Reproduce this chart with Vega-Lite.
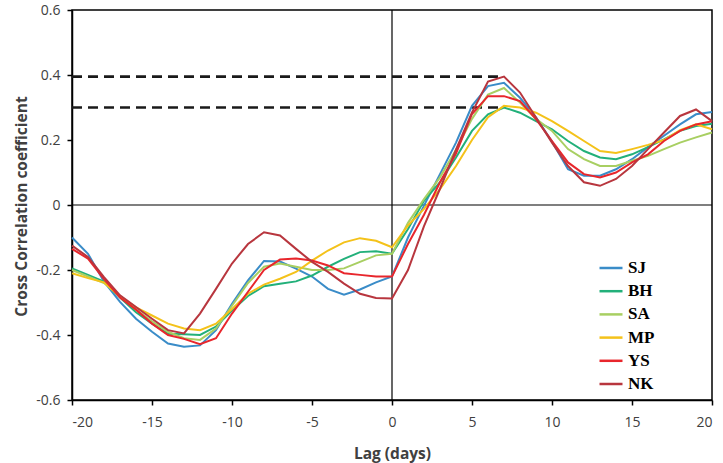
{
  "$schema": "https://vega.github.io/schema/vega-lite/v6.json",
  "width": 640,
  "height": 390,
  "autosize": "none",
  "padding": {"left": 72, "top": 10, "right": 11, "bottom": 63},
  "background": "white",
  "config": {
    "view": {"stroke": "black", "strokeWidth": 1.5},
    "axis": {
      "grid": false,
      "domainColor": "black",
      "domainWidth": 1.5,
      "tickColor": "black",
      "tickWidth": 1.5,
      "tickSize": 5,
      "labelFont": "Open Sans",
      "labelFontSize": 14,
      "labelColor": "#404040",
      "titleFont": "Open Sans",
      "titleFontSize": 15.5,
      "titleFontWeight": "bold",
      "titleColor": "#404040"
    }
  },
  "datasets": {
    "ccf": [
      {"lag": -20, "SJ": -0.100, "BH": -0.195, "SA": -0.200, "MP": -0.210, "YS": -0.135, "NK": -0.125},
      {"lag": -19, "SJ": -0.150, "BH": -0.215, "SA": -0.220, "MP": -0.225, "YS": -0.165, "NK": -0.160},
      {"lag": -18, "SJ": -0.236, "BH": -0.236, "SA": -0.240, "MP": -0.238, "YS": -0.228, "NK": -0.222},
      {"lag": -17, "SJ": -0.298, "BH": -0.285, "SA": -0.280, "MP": -0.282, "YS": -0.285, "NK": -0.278},
      {"lag": -16, "SJ": -0.350, "BH": -0.330, "SA": -0.322, "MP": -0.315, "YS": -0.322, "NK": -0.314},
      {"lag": -15, "SJ": -0.390, "BH": -0.365, "SA": -0.358, "MP": -0.340, "YS": -0.365, "NK": -0.350},
      {"lag": -14, "SJ": -0.426, "BH": -0.396, "SA": -0.390, "MP": -0.365, "YS": -0.400, "NK": -0.385},
      {"lag": -13, "SJ": -0.436, "BH": -0.398, "SA": -0.410, "MP": -0.380, "YS": -0.412, "NK": -0.395},
      {"lag": -12, "SJ": -0.432, "BH": -0.400, "SA": -0.415, "MP": -0.385, "YS": -0.428, "NK": -0.334},
      {"lag": -11, "SJ": -0.385, "BH": -0.374, "SA": -0.380, "MP": -0.365, "YS": -0.410, "NK": -0.258},
      {"lag": -10, "SJ": -0.304, "BH": -0.325, "SA": -0.310, "MP": -0.320, "YS": -0.334, "NK": -0.180},
      {"lag": -9, "SJ": -0.232, "BH": -0.280, "SA": -0.240, "MP": -0.273, "YS": -0.267, "NK": -0.120},
      {"lag": -8, "SJ": -0.172, "BH": -0.250, "SA": -0.190, "MP": -0.245, "YS": -0.200, "NK": -0.084},
      {"lag": -7, "SJ": -0.174, "BH": -0.242, "SA": -0.180, "MP": -0.227, "YS": -0.168, "NK": -0.094},
      {"lag": -6, "SJ": -0.196, "BH": -0.235, "SA": -0.190, "MP": -0.206, "YS": -0.165, "NK": -0.135},
      {"lag": -5, "SJ": -0.220, "BH": -0.217, "SA": -0.200, "MP": -0.171, "YS": -0.171, "NK": -0.175},
      {"lag": -4, "SJ": -0.258, "BH": -0.190, "SA": -0.200, "MP": -0.140, "YS": -0.186, "NK": -0.206},
      {"lag": -3, "SJ": -0.276, "BH": -0.166, "SA": -0.195, "MP": -0.115, "YS": -0.210, "NK": -0.242},
      {"lag": -2, "SJ": -0.260, "BH": -0.145, "SA": -0.175, "MP": -0.102, "YS": -0.215, "NK": -0.273},
      {"lag": -1, "SJ": -0.238, "BH": -0.142, "SA": -0.155, "MP": -0.110, "YS": -0.220, "NK": -0.286},
      {"lag": 0, "SJ": -0.220, "BH": -0.150, "SA": -0.150, "MP": -0.130, "YS": -0.220, "NK": -0.288},
      {"lag": 1, "SJ": -0.100, "BH": -0.074, "SA": -0.055, "MP": -0.063, "YS": -0.120, "NK": -0.200},
      {"lag": 2, "SJ": -0.002, "BH": 0.013, "SA": 0.018, "MP": -0.012, "YS": -0.030, "NK": -0.065},
      {"lag": 3, "SJ": 0.095, "BH": 0.070, "SA": 0.085, "MP": 0.049, "YS": 0.070, "NK": 0.050},
      {"lag": 4, "SJ": 0.192, "BH": 0.146, "SA": 0.170, "MP": 0.120, "YS": 0.158, "NK": 0.170},
      {"lag": 5, "SJ": 0.305, "BH": 0.228, "SA": 0.265, "MP": 0.200, "YS": 0.280, "NK": 0.285},
      {"lag": 6, "SJ": 0.366, "BH": 0.279, "SA": 0.340, "MP": 0.270, "YS": 0.335, "NK": 0.380},
      {"lag": 7, "SJ": 0.376, "BH": 0.300, "SA": 0.360, "MP": 0.305, "YS": 0.335, "NK": 0.395},
      {"lag": 8, "SJ": 0.330, "BH": 0.284, "SA": 0.315, "MP": 0.300, "YS": 0.320, "NK": 0.346},
      {"lag": 9, "SJ": 0.270, "BH": 0.258, "SA": 0.265, "MP": 0.284, "YS": 0.264, "NK": 0.269},
      {"lag": 10, "SJ": 0.195, "BH": 0.233, "SA": 0.228, "MP": 0.258, "YS": 0.197, "NK": 0.192},
      {"lag": 11, "SJ": 0.110, "BH": 0.197, "SA": 0.172, "MP": 0.228, "YS": 0.131, "NK": 0.120},
      {"lag": 12, "SJ": 0.090, "BH": 0.166, "SA": 0.141, "MP": 0.197, "YS": 0.095, "NK": 0.070},
      {"lag": 13, "SJ": 0.090, "BH": 0.146, "SA": 0.120, "MP": 0.166, "YS": 0.085, "NK": 0.059},
      {"lag": 14, "SJ": 0.110, "BH": 0.141, "SA": 0.120, "MP": 0.160, "YS": 0.100, "NK": 0.080},
      {"lag": 15, "SJ": 0.141, "BH": 0.156, "SA": 0.136, "MP": 0.172, "YS": 0.131, "NK": 0.120},
      {"lag": 16, "SJ": 0.178, "BH": 0.178, "SA": 0.151, "MP": 0.185, "YS": 0.156, "NK": 0.172},
      {"lag": 17, "SJ": 0.213, "BH": 0.202, "SA": 0.172, "MP": 0.200, "YS": 0.197, "NK": 0.223},
      {"lag": 18, "SJ": 0.248, "BH": 0.228, "SA": 0.192, "MP": 0.230, "YS": 0.228, "NK": 0.274},
      {"lag": 19, "SJ": 0.279, "BH": 0.243, "SA": 0.208, "MP": 0.248, "YS": 0.248, "NK": 0.294},
      {"lag": 20, "SJ": 0.286, "BH": 0.250, "SA": 0.223, "MP": 0.233, "YS": 0.258, "NK": 0.258}
    ],
    "peaks": [
      {"lag": -20, "lag2": 7, "r": 0.395},
      {"lag": -20, "lag2": 7, "r": 0.300}
    ],
    "zero": [{"lag": 0, "r": 0}]
  },
  "encoding": {
    "x": {
      "field": "lag",
      "type": "quantitative",
      "scale": {"domain": [-20, 20], "nice": false, "zero": false},
      "axis": {
        "title": "Lag (days)",
        "values": [-20, -15, -10, -5, 0, 5, 10, 15, 20],
        "labelExpr": "(datum.value < 0 ? '-' : '') + abs(datum.value)",
        "labelPadding": 10,
        "titleY": 46,
        "titleBaseline": "top"
      }
    },
    "y": {
      "field": "r",
      "type": "quantitative",
      "scale": {"domain": [-0.6, 0.6], "nice": false, "zero": false},
      "axis": {
        "title": "Cross Correlation coefficient",
        "values": [-0.6, -0.4, -0.2, 0, 0.2, 0.4, 0.6],
        "labelExpr": "datum.value == 0 ? '0' : (datum.value < 0 ? '-' : '') + format(abs(datum.value), '.1f')",
        "labelPadding": 7,
        "titleX": -43,
        "titleY": 196
      }
    }
  },
  "layer": [
    {
      "data": {"name": "zero"},
      "mark": {"type": "rule", "color": "black", "strokeWidth": 1.2},
      "encoding": {"x": null}
    },
    {
      "data": {"name": "zero"},
      "mark": {"type": "rule", "color": "black", "strokeWidth": 1.2},
      "encoding": {"y": null}
    },
    {
      "data": {"name": "peaks"},
      "mark": {"type": "rule", "color": "#1a1a1a", "strokeWidth": 2.6, "strokeDash": [10, 6]},
      "encoding": {
        "x2": {"field": "lag2"}
      }
    },
    {
      "data": {"name": "ccf"},
      "transform": [
        {"fold": ["SJ", "BH", "SA", "MP", "YS", "NK"], "as": ["station", "r"]}
      ],
      "mark": {"type": "line", "strokeWidth": 2, "interpolate": "linear"},
      "encoding": {
        "color": {
          "field": "station",
          "type": "nominal",
          "scale": {
            "domain": ["SJ", "BH", "SA", "MP", "YS", "NK"],
            "range": ["#3a8cc8", "#22b07a", "#a8cf62", "#f4c21a", "#e8262c", "#b8363e"]
          },
          "legend": {
            "title": null,
            "orient": "none",
            "legendX": 526,
            "legendY": 245,
            "padding": 0,
            "symbolType": "stroke",
            "symbolSize": 529,
            "symbolStrokeWidth": 2.5,
            "labelFont": "Liberation Serif",
            "labelFontSize": 17,
            "labelFontWeight": "bold",
            "labelColor": "black",
            "labelOffset": 4,
            "rowPadding": 2.2
          }
        }
      }
    }
  ]
}
